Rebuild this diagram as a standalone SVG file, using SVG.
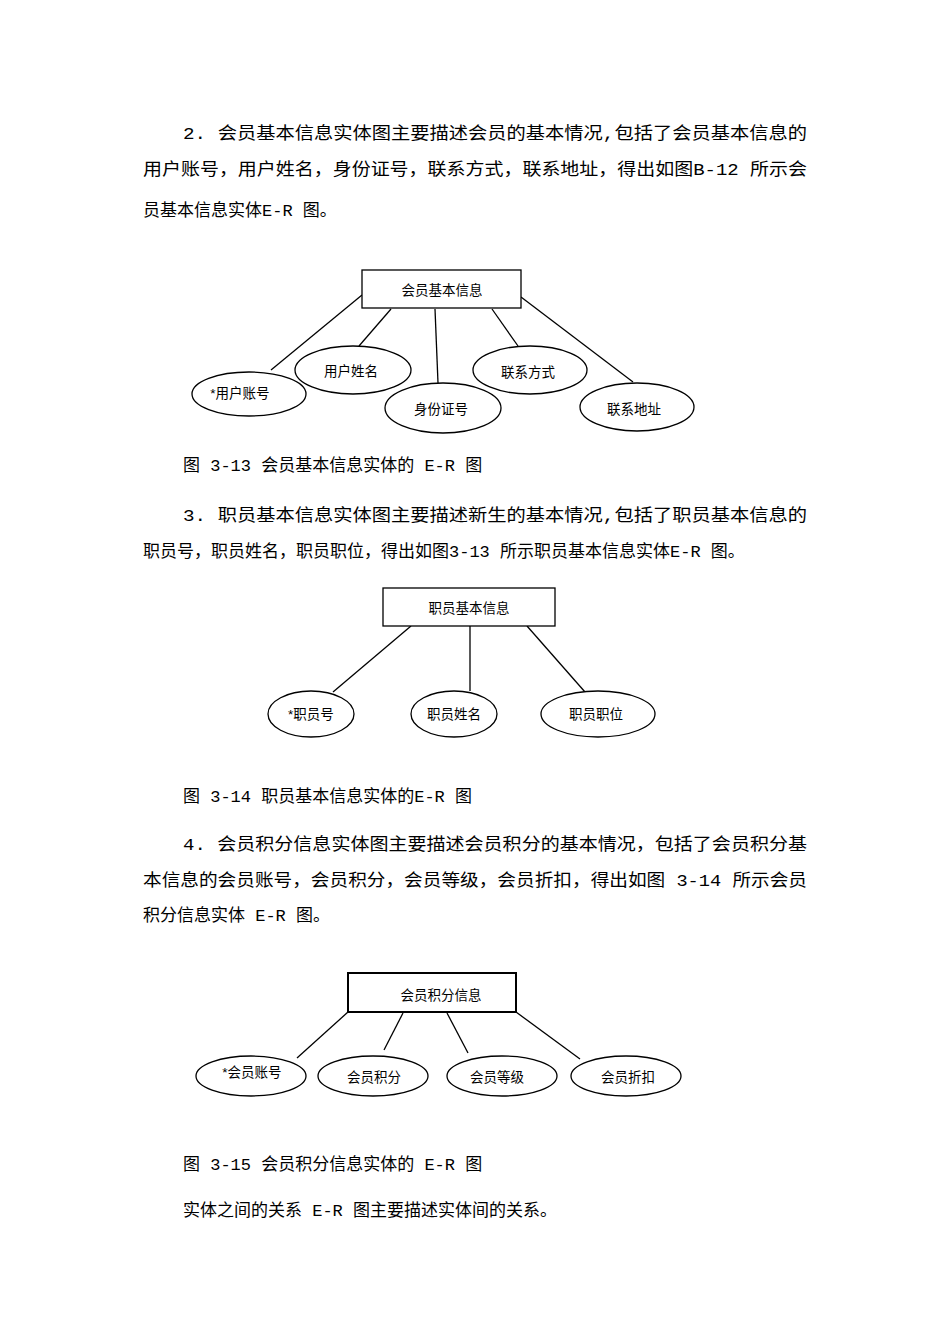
<svg xmlns="http://www.w3.org/2000/svg" width="950" height="1344" viewBox="0 0 950 1344">
<style>
.t{font-family:"Liberation Mono","Noto Sans CJK SC",monospace;font-size:17px;fill:#000}
.n{font-family:"Liberation Sans","Noto Sans CJK SC",sans-serif;font-size:13.5px;fill:#000;text-anchor:middle;dominant-baseline:central}
.s{fill:#fff;stroke:#000;stroke-width:1.3}
.c line{stroke:#000;stroke-width:1.3}
</style>
<rect width="950" height="1344" fill="#fff"/>
<text class="t" x="183" y="139" textLength="624" lengthAdjust="spacingAndGlyphs">2.  会员基本信息实体图主要描述会员的基本情况,包括了会员基本信息的</text>
<text class="t" x="143" y="175" textLength="664" lengthAdjust="spacingAndGlyphs">用户账号，用户姓名，身份证号，联系方式，联系地址，得出如图B-12 所示会</text>
<text class="t" x="143" y="216">员基本信息实体E-R 图。</text>
<text class="t" x="183" y="471">图 3-13 会员基本信息实体的 E-R 图</text>
<text class="t" x="183" y="521" textLength="624" lengthAdjust="spacingAndGlyphs">3.  职员基本信息实体图主要描述新生的基本情况,包括了职员基本信息的</text>
<text class="t" x="143" y="557">职员号，职员姓名，职员职位，得出如图3-13 所示职员基本信息实体E-R 图。</text>
<text class="t" x="183" y="802">图 3-14 职员基本信息实体的E-R 图</text>
<text class="t" x="183" y="850" textLength="624" lengthAdjust="spacingAndGlyphs">4.  会员积分信息实体图主要描述会员积分的基本情况，包括了会员积分基</text>
<text class="t" x="143" y="886" textLength="664" lengthAdjust="spacingAndGlyphs">本信息的会员账号，会员积分，会员等级，会员折扣，得出如图 3-14 所示会员</text>
<text class="t" x="143" y="921">积分信息实体 E-R 图。</text>
<text class="t" x="183" y="1170">图 3-15 会员积分信息实体的 E-R 图</text>
<text class="t" x="183" y="1216">实体之间的关系 E-R 图主要描述实体间的关系。</text>
<g class="c" id="connectors">
<line x1="362" y1="295" x2="271" y2="370"/>
<line x1="391" y1="309" x2="359" y2="346"/>
<line x1="435" y1="309" x2="438" y2="383"/>
<line x1="492" y1="309" x2="518" y2="346"/>
<line x1="521" y1="297" x2="633" y2="382"/>
<line x1="411" y1="626" x2="333" y2="692"/>
<line x1="470" y1="626" x2="470" y2="691"/>
<line x1="527" y1="626" x2="585" y2="692"/>
<line x1="348" y1="1012" x2="297" y2="1058"/>
<line x1="403" y1="1013" x2="384" y2="1050"/>
<line x1="447" y1="1013" x2="468" y2="1053"/>
<line x1="516" y1="1012" x2="580" y2="1059"/>
</g>
<g id="e1"><rect class="s" x="362" y="270" width="159" height="38"/><text class="n" x="442" y="290">会员基本信息</text></g>
<g id="a1"><ellipse class="s" cx="249" cy="394" rx="57" ry="22"/><text class="n" x="240" y="393">*用户账号</text></g>
<g id="a2"><ellipse class="s" cx="353" cy="370" rx="58" ry="24"/><text class="n" x="351" y="371">用户姓名</text></g>
<g id="a3"><ellipse class="s" cx="443" cy="408" rx="58" ry="25"/><text class="n" x="441" y="409">身份证号</text></g>
<g id="a4"><ellipse class="s" cx="530" cy="370" rx="57" ry="24"/><text class="n" x="528" y="372">联系方式</text></g>
<g id="a5"><ellipse class="s" cx="637" cy="407" rx="57" ry="24"/><text class="n" x="634" y="409">联系地址</text></g>
<g id="e2"><rect class="s" x="383" y="588" width="172" height="38"/><text class="n" x="469" y="608">职员基本信息</text></g>
<g id="b1"><ellipse class="s" cx="311" cy="714" rx="43" ry="23"/><text class="n" x="311" y="714">*职员号</text></g>
<g id="b2"><ellipse class="s" cx="454" cy="714" rx="43" ry="23"/><text class="n" x="454" y="714">职员姓名</text></g>
<g id="b3"><ellipse class="s" cx="598" cy="714" rx="57" ry="23"/><text class="n" x="596" y="714">职员职位</text></g>
<g id="e3"><rect x="348" y="973" width="168" height="39" fill="#fff" stroke="#000" stroke-width="2"/><text class="n" x="441" y="995">会员积分信息</text></g>
<g id="c1"><ellipse class="s" cx="251" cy="1076" rx="55" ry="20"/><text class="n" x="252" y="1072">*会员账号</text></g>
<g id="c2"><ellipse class="s" cx="373" cy="1076" rx="55" ry="20"/><text class="n" x="374" y="1077">会员积分</text></g>
<g id="c3"><ellipse class="s" cx="502" cy="1076" rx="55" ry="20"/><text class="n" x="497" y="1077">会员等级</text></g>
<g id="c4"><ellipse class="s" cx="626" cy="1076" rx="55" ry="20"/><text class="n" x="628" y="1077">会员折扣</text></g>
</svg>
